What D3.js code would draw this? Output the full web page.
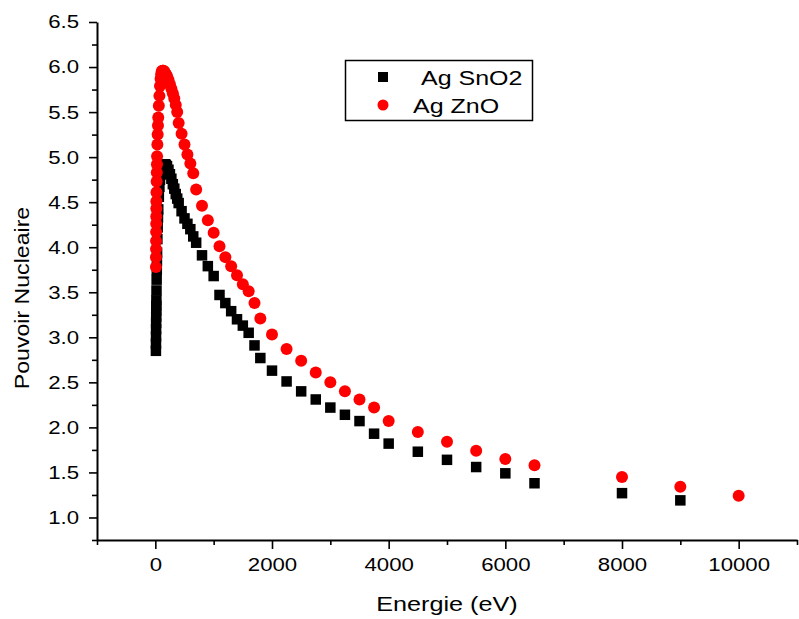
<!DOCTYPE html>
<html>
<head>
<meta charset="utf-8">
<script src="https://cdn.jsdelivr.net/npm/d3@7"></script>
<style>
  html, body { margin: 0; padding: 0; background: #fff; }
  svg { display: block; font-family: "Liberation Sans", Arial, sans-serif; }
</style>
</head>
<body>
<svg id="chart" width="799" height="619"></svg>
<script>
// ---- Data ----
const energySnO2 = [10, 11, 12, 13, 14, 15, 16, 17, 18, 20, 22.5, 25, 27.5, 30, 35, 40, 45, 50, 60, 70, 80, 90,
  100, 110, 120, 130, 140, 150, 160, 170, 180, 200, 225, 250, 275, 300, 325, 350, 375, 400, 450, 500, 550, 600, 650, 700,
  800, 900, 1000, 1100, 1200, 1300, 1400, 1500, 1600, 1700, 1800, 2000, 2250, 2500, 2750, 3000, 3250, 3500, 3750,
  4000, 4500, 5000, 5500, 6000, 6500, 8000, 9000];
const valuesSnO2 = [2.85, 2.93, 3.01, 3.09, 3.16, 3.23, 3.29, 3.35, 3.41, 3.52, 3.64, 3.75, 3.85, 3.94, 4.09, 4.22, 4.33, 4.42, 4.56, 4.67, 4.75, 4.81,
  4.85, 4.88, 4.90, 4.91, 4.92, 4.92, 4.92, 4.92, 4.91, 4.90, 4.86, 4.81, 4.76, 4.70, 4.65, 4.59, 4.54, 4.49, 4.40, 4.32, 4.26, 4.20, 4.12, 4.05,
  3.91, 3.79, 3.68, 3.47, 3.38, 3.29, 3.20, 3.13, 3.05, 2.91, 2.77, 2.63, 2.51, 2.40, 2.31, 2.22, 2.14, 2.07, 1.93,
  1.82, 1.73, 1.64, 1.56, 1.49, 1.38, 1.27, 1.19];

const energyZnO = [10, 11, 12, 13, 14, 15, 16, 17, 18, 20, 22.5, 25, 27.5, 30, 35, 40, 45, 50, 60, 70, 80, 90,
  100, 110, 120, 130, 140, 150, 160, 170, 180, 200, 225, 250, 275, 300, 325, 350, 375, 400, 450, 500, 550, 600, 650, 700,
  800, 900, 1000, 1100, 1200, 1300, 1400, 1500, 1600, 1700, 1800, 2000, 2250, 2500, 2750, 3000, 3250, 3500, 3750,
  4000, 4500, 5000, 5500, 6000, 6500, 8000, 9000, 10000];
const valuesZnO = [3.78, 3.89, 3.98, 4.07, 4.17, 4.26, 4.34, 4.43, 4.51, 4.61, 4.73, 4.83, 4.92, 5.01, 5.14, 5.25, 5.35, 5.44, 5.57, 5.68, 5.79, 5.87,
  5.92, 5.95, 5.96, 5.96, 5.96, 5.95, 5.94, 5.93, 5.92, 5.90, 5.86, 5.81, 5.76, 5.71, 5.65, 5.58, 5.50, 5.38, 5.26, 5.14, 5.03, 4.93, 4.82, 4.64,
  4.46, 4.30, 4.16, 4.01, 3.89, 3.79, 3.69, 3.59, 3.51, 3.38, 3.21, 3.03, 2.87, 2.74, 2.61, 2.50, 2.40, 2.31, 2.22,
  2.07, 1.95, 1.84, 1.74, 1.65, 1.58, 1.45, 1.34, 1.24];

const xMajorTicks = [0, 2000, 4000, 6000, 8000, 10000];
const xMinorTicks = [-1000, 1000, 3000, 5000, 7000, 9000, 11000];
const yMajorTicks = [1.0, 1.5, 2.0, 2.5, 3.0, 3.5, 4.0, 4.5, 5.0, 5.5, 6.0, 6.5];
const yMinorTicks = [0.75, 1.25, 1.75, 2.25, 2.75, 3.25, 3.75, 4.25, 4.75, 5.25, 5.75, 6.25];

const seriesNames = ["Ag SnO2", "Ag ZnO"];
const seriesColors = ["#000000", "#ff0000"];

// stretch text horizontally (reference text is wider than plain Arial)
function stretch(sel, k) {
  sel.each(function () {
    const w = this.getComputedTextLength();
    this.setAttribute("textLength", (w * k).toFixed(2));
    this.setAttribute("lengthAdjust", "spacingAndGlyphs");
  });
}

// ---- Layout ----
const svg = d3.select("#chart");
const x = d3.scaleLinear().domain([-1000, 11000]).range([97, 797]);
const y = d3.scaleLinear().domain([0.75, 6.5]).range([540, 22]);

// ---- Axes ----
const xAxisG = svg.append("g").attr("transform", `translate(0,${y(0.75)})`);
xAxisG.call(d3.axisBottom(x).tickValues(xMajorTicks).tickSize(9).tickSizeOuter(0).tickPadding(9).tickFormat(d3.format("d")));
xAxisG.append("g").call(d3.axisBottom(x).tickValues(xMinorTicks).tickSize(5).tickSizeOuter(0).tickFormat(""))
  .select(".domain").remove();

const yAxisG = svg.append("g").attr("transform", `translate(${x(-1000)},0)`);
yAxisG.call(d3.axisLeft(y).tickValues(yMajorTicks).tickSize(8).tickSizeOuter(0).tickPadding(10).tickFormat(d3.format(".1f")));
yAxisG.append("g").call(d3.axisLeft(y).tickValues(yMinorTicks).tickSize(5).tickSizeOuter(0).tickFormat(""))
  .select(".domain").remove();

svg.selectAll(".domain").attr("stroke", "#000").attr("stroke-width", 2);
svg.selectAll(".tick line").attr("stroke", "#000").attr("stroke-width", 1.6);
svg.selectAll(".tick text").attr("font-size", 18.5).attr("fill", "#000")
  .attr("font-family", "Liberation Sans, Arial, sans-serif");
stretch(svg.selectAll(".tick text"), 1.2);

// ---- Axis titles ----
const xt = svg.append("text").attr("x", 447).attr("y", 611).attr("text-anchor", "middle")
  .attr("font-size", 21).text("Energie (eV)");
stretch(xt, 1.2);
const yt = svg.append("text").attr("transform", "translate(29,298) rotate(-90)").attr("text-anchor", "middle")
  .attr("font-size", 21).text("Pouvoir Nucleaire");
stretch(yt, 1.1);

// ---- Points ----
const sn = energySnO2.map((e, i) => [e, valuesSnO2[i]]);
const zn = energyZnO.map((e, i) => [e, valuesZnO[i]]);
const sq = 10.5;
svg.append("g").selectAll("rect").data(sn).join("rect")
  .attr("x", d => x(d[0]) - sq / 2).attr("y", d => y(d[1]) - sq / 2)
  .attr("width", sq).attr("height", sq).attr("fill", seriesColors[0]);
svg.append("g").selectAll("circle").data(zn).join("circle")
  .attr("cx", d => x(d[0])).attr("cy", d => y(d[1])).attr("r", 6).attr("fill", seriesColors[1]);

// ---- Legend ----
const lg = svg.append("g");
lg.append("rect").attr("x", 345.5).attr("y", 60.5).attr("width", 187).attr("height", 60)
  .attr("fill", "#fff").attr("stroke", "#000").attr("stroke-width", 1.5);
lg.append("rect").attr("x", 383 - 5).attr("y", 77 - 5).attr("width", 10).attr("height", 10).attr("fill", seriesColors[0]);
lg.append("circle").attr("cx", 383).attr("cy", 105).attr("r", 5.5).attr("fill", seriesColors[1]);
const l1 = lg.append("text").attr("x", 421).attr("y", 85).attr("font-size", 20).text(seriesNames[0]);
const l2 = lg.append("text").attr("x", 413).attr("y", 113).attr("font-size", 20).text(seriesNames[1]);
stretch(l1, 1.25);
stretch(l2, 1.25);
</script>
</body>
</html>
